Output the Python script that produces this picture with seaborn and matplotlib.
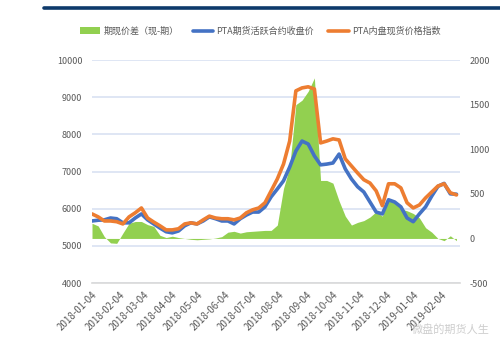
import numpy as np
import pandas as pd
import matplotlib
matplotlib.use("Agg")
import matplotlib.pyplot as plt
import matplotlib.dates as mdates
from matplotlib.patches import Patch
from matplotlib.lines import Line2D
import seaborn as sns

# Weekly observations, 2018-01-04 .. 2019-02-21
dates = pd.date_range("2018-01-04", periods=60, freq="7D")

# PTA domestic spot price index (left axis)
spot_index = [
    5860, 5780, 5670, 5670, 5650, 5590, 5780, 5890, 6020, 5750,
    5640, 5540, 5430, 5430, 5460, 5590, 5620, 5590, 5700, 5800,
    5750, 5730, 5730, 5700, 5750, 5890, 5970, 6020, 6160, 6480,
    6800, 7200, 7820, 9170, 9250, 9280, 9220, 7770, 7820, 7880,
    7850, 7340, 7150, 6960, 6780, 6690, 6480, 6080, 6670, 6670,
    6560, 6160, 6020, 6100, 6290, 6450, 6610, 6670, 6430, 6370,
]

# PTA most-active futures contract close (left axis)
futures_close = [
    5670, 5690, 5700, 5750, 5730, 5620, 5620, 5750, 5860, 5700,
    5590, 5480, 5380, 5350, 5400, 5540, 5620, 5590, 5670, 5780,
    5730, 5670, 5670, 5590, 5730, 5830, 5910, 5910, 6050, 6320,
    6530, 6750, 7120, 7550, 7820, 7740, 7420, 7180, 7200, 7230,
    7470, 7070, 6800, 6590, 6450, 6180, 5910, 5860, 6240, 6180,
    6050, 5750, 5650, 5860, 6050, 6340, 6600, 6680, 6400, 6390,
]

# Basis: spot minus futures (right axis)
basis_spread = [
    170, 140, 20, -50, -55, 60, 170, 190, 190, 155,
    135, 35, 10, 25, 10, 0, -10, -15, -10, -5,
    5, 20, 70, 80, 60, 75, 80, 85, 90, 90,
    150, 560, 800, 1500, 1550, 1650, 1800, 650, 650, 620,
    420, 250, 150, 180, 200, 240, 300, 250, 450, 420,
    330, 310, 280, 230, 120, 70, 0, -25, 30, -25,
]

legend_labels = ["期现价差（现-期）", "PTA期货活跃合约收盘价", "PTA内盘现货价格指数"]
left_ticks = [4000, 5000, 6000, 7000, 8000, 9000, 10000]
right_ticks = [-500, 0, 500, 1000, 1500, 2000]
month_ticks = pd.date_range("2018-01-04", "2019-02-04", freq=pd.DateOffset(months=1))

GREEN = "#92D050"
BLUE = "#4472C4"
ORANGE = "#ED7D31"
TEXT = "#595959"
GRID = "#D9E1F2"

sns.set_theme(style="white")
plt.rcParams["font.family"] = ["Noto Sans CJK SC", "DejaVu Sans"]
plt.rcParams["axes.unicode_minus"] = False

fig = plt.figure(figsize=(5, 3.49), dpi=100)
ax = fig.add_axes([0.184, 0.189, 0.736, 0.639])
ax2 = ax.twinx()   # basis area, right scale
ax3 = ax.twinx()   # price lines, left scale

x0, x1 = pd.Timestamp("2018-01-04"), pd.Timestamp("2019-02-25")

# base axes: left ticks, grid and date axis
ax.set_xlim(x0, x1)
ax.set_ylim(4000, 10000)
ax.set_yticks(left_ticks)
ax.set_yticklabels([str(v) for v in left_ticks])
ax.yaxis.grid(True, color=GRID, lw=1.2)
ax.xaxis.grid(False)
for s in ["top", "left", "right"]:
    ax.spines[s].set_visible(False)
ax.spines["bottom"].set_color("#D9D9D9")
ax.spines["bottom"].set_linewidth(1.2)
ax.tick_params(axis="y", length=0, pad=7, labelsize=6.5, labelcolor=TEXT)
ax.set_xticks(month_ticks)
ax.set_xticklabels([d.strftime("%Y-%m-%d") for d in month_ticks])
ax.tick_params(axis="x", length=4, width=1, color="#D9D9D9", direction="out",
               labelsize=7, labelcolor=TEXT, pad=1)
for lab in ax.get_xticklabels():
    lab.set_rotation(45)
    lab.set_ha("right")
    lab.set_rotation_mode("anchor")

# basis area on the right scale
ax2.set_ylim(-500, 2000)
ax2.fill_between(dates, 0, basis_spread, color=GREEN, lw=0)
ax2.set_yticks(right_ticks)
ax2.set_yticklabels([str(v) for v in right_ticks])
ax2.tick_params(axis="y", length=0, pad=7, labelsize=6.5, labelcolor=TEXT)
ax2.grid(False)
for s in ax2.spines.values():
    s.set_visible(False)

# price lines on the left scale
sns.lineplot(x=dates, y=futures_close, ax=ax3, color=BLUE, lw=2.6, legend=False)
sns.lineplot(x=dates, y=spot_index, ax=ax3, color=ORANGE, lw=2.6, legend=False)
ax3.set_ylim(4000, 10000)
ax3.set_xlim(x0, x1)
ax3.set_yticks([])
ax3.set_ylabel("")
ax3.grid(False)
for s in ax3.spines.values():
    s.set_visible(False)

handles = [
    Patch(facecolor=GREEN, edgecolor="none"),
    Line2D([0], [0], color=BLUE, lw=2.6),
    Line2D([0], [0], color=ORANGE, lw=2.6),
]
fig.legend(handles, legend_labels, loc="center", bbox_to_anchor=(0.52, 0.911),
           ncol=3, frameon=False, fontsize=6.5, handlelength=2.3,
           handletextpad=0.3, columnspacing=1.6, labelcolor=TEXT)

# header rule
fig.add_artist(Line2D([0.088, 1.0], [0.977, 0.977], transform=fig.transFigure,
                      color="#0E3A6B", lw=2.6))

fig.text(0.98, 0.055, "微盘的期货人生", ha="right", va="center",
         color="#C8C8C8", fontsize=8, alpha=0.9)

fig.savefig("out.png", dpi=100)
